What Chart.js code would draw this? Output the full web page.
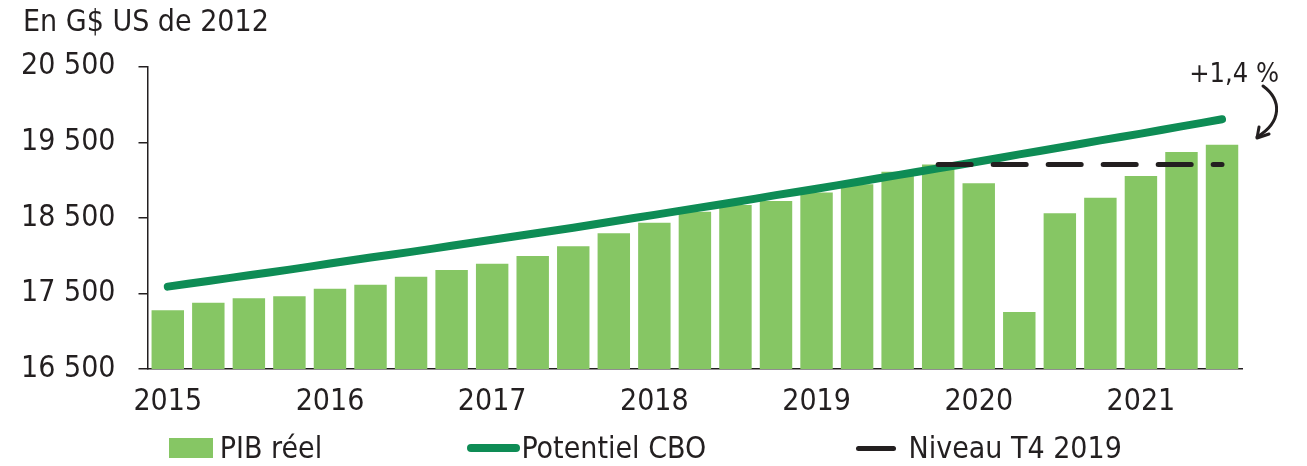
<!DOCTYPE html>
<html>
<head>
<meta charset="utf-8">
<script src="https://cdn.jsdelivr.net/npm/chart.js@4/dist/chart.umd.min.js"></script>
<style>
  html, body { margin: 0; padding: 0; background: #ffffff; }
  #wrap { position: relative; width: 1307px; height: 466px; overflow: hidden; }
  #c { position: absolute; left: 0; top: 0; }
  .lg { position: absolute; font-family: "DejaVu Sans Condensed", "Liberation Sans Narrow", sans-serif; font-size: 30px; line-height: 30px; color: #231f20; white-space: nowrap; }
  .sym { position: absolute; }
</style>
</head>
<body>
<div id="wrap">
  <canvas id="c" width="1307" height="466"></canvas>
</div>
<script>
const FONT = '"DejaVu Sans Condensed", "Liberation Sans Narrow", sans-serif';

const quarters = [
  '2015 T1','2015 T2','2015 T3','2015 T4',
  '2016 T1','2016 T2','2016 T3','2016 T4',
  '2017 T1','2017 T2','2017 T3','2017 T4',
  '2018 T1','2018 T2','2018 T3','2018 T4',
  '2019 T1','2019 T2','2019 T3','2019 T4',
  '2020 T1','2020 T2','2020 T3','2020 T4',
  '2021 T1','2021 T2','2021 T3'
];
const realGdp = [
  17276, 17377, 17435, 17462,
  17563, 17616, 17721, 17810,
  17894, 17995, 18123, 18295,
  18436, 18581, 18670, 18723,
  18837, 18943, 19111, 19205,
  18957, 17254, 18560, 18767,
  19054, 19371, 19468
];
const cboPotential = [
  17590, 17665, 17740, 17815,
  17895, 17975, 18050, 18130,
  18210, 18290, 18370, 18455,
  18540, 18625, 18710, 18800,
  18885, 18975, 19065, 19155,
  19245, 19340, 19430, 19525,
  19615, 19710, 19805
];
const levelT4_2019 = [
  null, null, null, null,
  null, null, null, null,
  null, null, null, null,
  null, null, null, null,
  null, null, null, 19205,
  19205, 19205, 19205, 19205,
  19205, 19205, 19205
];
const yTicks = [16500, 17500, 18500, 19500, 20500];
const seriesNames = ['PIB réel', 'Potentiel CBO', 'Niveau T4 2019'];
const titleText = 'En G$ US de 2012';
const noteText = '+1,4 %';

const BAR = '#86c664';
const CBO = '#0e8c55';
const DARK = '#231f20';

function fmt(v) {
  const s = String(v);
  return s.length > 3 ? s.slice(0, s.length - 3) + ' ' + s.slice(-3) : s;
}

const notePlugin = {
  id: 'note',
  afterDraw(chart) {
    const ctx = chart.ctx;
    const xs = chart.scales.x;
    const xe = xs.getPixelForValue(quarters.length - 1);
    ctx.save();
    ctx.fillStyle = DARK;
    ctx.font = '27px ' + FONT;
    ctx.textAlign = 'right';
    ctx.textBaseline = 'alphabetic';
    ctx.fillText(noteText, xe + 57, 82);
    ctx.strokeStyle = DARK;
    ctx.lineWidth = 3;
    ctx.lineCap = 'round';
    ctx.lineJoin = 'round';
    ctx.beginPath();
    ctx.moveTo(xe + 41, 86);
    ctx.bezierCurveTo(xe + 60, 100, xe + 60, 122, xe + 35, 137);
    ctx.stroke();
    ctx.beginPath();
    ctx.moveTo(xe + 37, 127);
    ctx.lineTo(xe + 35, 138);
    ctx.lineTo(xe + 47, 134);
    ctx.stroke();
    ctx.restore();
  }
};

const chart = new Chart(document.getElementById('c'), {
  type: 'bar',
  data: {
    labels: quarters,
    datasets: [
      {
        type: 'line',
        label: seriesNames[2],
        data: levelT4_2019,
        borderColor: DARK,
        borderWidth: 5,
        borderDash: [33, 22],
        borderCapStyle: 'round',
        pointRadius: 0,
        fill: false,
        order: 0
      },
      {
        type: 'line',
        label: seriesNames[1],
        data: cboPotential,
        borderColor: CBO,
        borderWidth: 8,
        borderCapStyle: 'round',
        borderJoinStyle: 'round',
        pointRadius: 0,
        tension: 0.2,
        fill: false,
        order: 1
      },
      {
        type: 'bar',
        label: seriesNames[0],
        data: realGdp,
        backgroundColor: BAR,
        borderWidth: 0,
        categoryPercentage: 1,
        barPercentage: 0.8,
        order: 2
      }
    ]
  },
  options: {
    responsive: false,
    animation: false,
    devicePixelRatio: 1,
    layout: { padding: { left: 23, right: 64.7, top: 0, bottom: 47 } },
    plugins: {
      legend: { display: false },
      tooltip: { enabled: false },
      title: {
        display: true,
        text: titleText,
        align: 'start',
        color: DARK,
        font: { family: FONT, size: 30, weight: 'normal', lineHeight: 1.2 },
        padding: { top: 5, bottom: 25.7 }
      }
    },
    scales: {
      x: {
        grid: { display: false, drawTicks: false },
        border: { display: true, color: DARK, width: 1.5 },
        ticks: {
          autoSkip: false,
          maxRotation: 0,
          minRotation: 0,
          padding: 15,
          color: DARK,
          font: { family: FONT, size: 30 },
          callback: function (v, i) {
            const q = quarters[i];
            return q.endsWith('T1') ? q.slice(0, 4) : '';
          }
        },
        afterFit: function (s) { s.height = 50; }
      },
      y: {
        min: 16500,
        max: 20500,
        afterBuildTicks: function (s) { s.ticks = yTicks.map(v => ({ value: v })); },
        grid: { display: true, drawOnChartArea: false, drawTicks: true, tickLength: 9, color: DARK, lineWidth: 1.5 },
        border: { display: true, color: DARK, width: 1.5 },
        ticks: {
          padding: 23,
          color: DARK,
          font: { family: FONT, size: 30 },
          callback: function (v) { return fmt(v); }
        },
        afterFit: function (s) { s.width = 124.5; }
      }
    }
  },
  plugins: [notePlugin]
});

// HTML legend built from the chart's datasets
(function buildLegend() {
  const wrap = document.getElementById('wrap');
  const ds = chart.data.datasets;
  const bar = ds[2];
  const cbo = ds[1];
  const lvl = ds[0];
  const items = [
    { label: bar.label, kind: 'box', color: bar.backgroundColor, sx: 168.7, sw: 44.6, tx: 219.7 },
    { label: cbo.label, kind: 'line', color: cbo.borderColor, th: 8, sx: 466.5, sw: 53, tx: 521.4 },
    { label: lvl.label, kind: 'line', color: lvl.borderColor, th: 5, sx: 855.6, sw: 40, tx: 908.5 }
  ];
  items.forEach(it => {
    const s = document.createElement('div');
    s.className = 'sym';
    if (it.kind === 'box') {
      s.style.left = it.sx + 'px'; s.style.top = '438px';
      s.style.width = it.sw + 'px'; s.style.height = '20px';
      s.style.background = it.color;
    } else {
      s.style.left = it.sx + 'px'; s.style.top = (448 - it.th / 2) + 'px';
      s.style.width = it.sw + 'px'; s.style.height = it.th + 'px';
      s.style.background = it.color; s.style.borderRadius = (it.th / 2) + 'px';
    }
    wrap.appendChild(s);
    const t = document.createElement('div');
    t.className = 'lg';
    t.style.left = it.tx + 'px';
    t.style.top = '432.6px';
    t.textContent = it.label;
    wrap.appendChild(t);
  });
})();
</script>
</body>
</html>
